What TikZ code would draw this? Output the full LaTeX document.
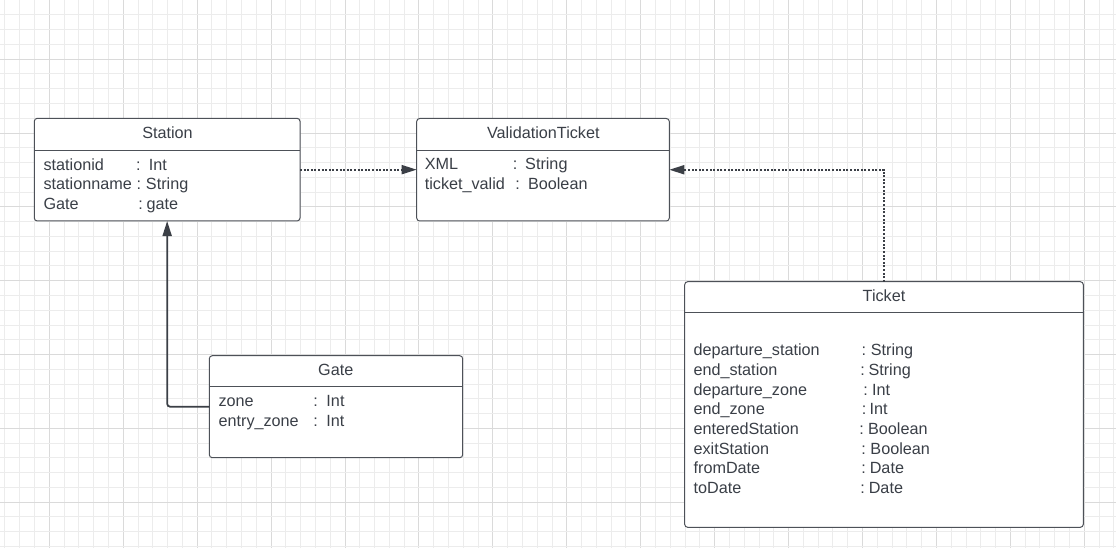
\documentclass[tikz,border=0pt]{standalone}
\usepackage{fontspec}
\setmainfont{Liberation Sans}
\usetikzlibrary{arrows.meta}

\definecolor{gridminor}{HTML}{ECECEC}
\definecolor{gridmajor}{HTML}{DADADA}
\definecolor{umlline}{HTML}{4D5158}
\definecolor{umltext}{HTML}{3A3F47}
\definecolor{umlarrow}{HTML}{3B3F46}

% one attribute row: name, colon position, gap after colon, type
\newcommand\attrline[4]{\makebox[#2pt][l]{#1}\makebox[0pt][c]{:}\hspace*{#3pt}#4}

\tikzset{
  classbox/.style={draw=umlline, line width=1pt, rounded corners=3pt, fill=white,
    rectangle, anchor=north west, inner sep=0pt, outer sep=0pt},
  divider/.style={draw=umlline, line width=1pt},
  uml/.style={font=\fontsize{16.2}{19.7}\selectfont, text=umltext, inner sep=0pt, outer sep=0pt},
  title/.style={uml, anchor=base},
  attr/.style={uml, anchor=base west},
  dep/.style={draw=umlarrow, line width=1.8pt, dash pattern=on 2pt off 1.6pt,
    -{Triangle[length=15pt,width=9pt]}},
  assoc/.style={draw=umlarrow, line width=1.8pt, rounded corners=3pt,
    -{Triangle[length=15pt,width=9pt]}},
}

\begin{document}
\begin{tikzpicture}[x=1pt, y=-1pt]
\useasboundingbox (0,0) rectangle (1116,548);
\fill[white] (0,0) rectangle (1116,548);

% background grid, a heavier line every fifth
\foreach \i in {0,...,75} {
  \pgfmathsetmacro\gx{4.94+14.786*\i}
  \pgfmathtruncatemacro\m{mod(\i+2,5)}
  \ifnum\m=0
    \draw[gridmajor, line width=1pt] (\gx,0) -- (\gx,548);
  \else
    \draw[gridminor, line width=1pt] (\gx,0) -- (\gx,548);
  \fi
}
\foreach \j in {0,...,37} {
  \pgfmathsetmacro\gy{14.9+14.767*\j}
  \pgfmathtruncatemacro\m{mod(\j+2,5)}
  \ifnum\m=0
    \draw[gridmajor, line width=1pt] (0,\gy) -- (1116,\gy);
  \else
    \draw[gridminor, line width=1pt] (0,\gy) -- (1116,\gy);
  \fi
}

% Station
\node[classbox, minimum width=265.7pt, minimum height=102.7pt] (st) at (34.3,118.3) {};
\draw[divider] (34.3,150.7) -- (300,150.7);
\node[title] (st-title) at (167.5,138.8) {Station};
\node[attr] (st-a1) at (43.6,170.1) {\attrline{stationid}{94.7}{10.5}{Int}};
\node[attr] (st-a2) at (43.6,189.7) {\attrline{stationname}{95.4}{7}{String}};
\node[attr] (st-a3) at (43.6,209.2) {\attrline{Gate}{97.1}{6}{gate}};

% ValidationTicket
\node[classbox, minimum width=252.6pt, minimum height=102.5pt] (vt) at (416.7,118.5) {};
\draw[divider] (416.7,150.7) -- (669.3,150.7);
\node[title] (vt-title) at (543.3,138.8) {ValidationTicket};
\node[attr] (vt-a1) at (424.8,169.8) {\attrline{XML}{90.2}{10.2}{String}};
\node[attr] (vt-a2) at (424.8,189.4) {\attrline{ticket\_valid}{92.9}{10.4}{Boolean}};

% Gate
\node[classbox, minimum width=253.4pt, minimum height=102pt] (gt) at (209.3,355.7) {};
\draw[divider] (209.3,386) -- (462.7,386);
\node[title] (gt-title) at (335.8,375.1) {Gate};
\node[attr] (gt-a1) at (218.6,406.9) {\attrline{zone}{97.1}{10.8}{Int}};
\node[attr] (gt-a2) at (218.6,426.2) {\attrline{entry\_zone}{97.1}{10.8}{Int}};

% Ticket
\node[classbox, minimum width=398.6pt, minimum height=245.6pt] (tk) at (684.7,281.7) {};
\draw[divider] (684.7,312.7) -- (1083.3,312.7);
\node[title] (tk-title) at (884,301.1) {Ticket};
\foreach \name/\cx/\gap/\type [count=\k from 0] in {
    departure\_station/170.4/6.9/String,
    end\_station/169.1/5.8/String,
    departure\_zone/172.1/6.4/Int,
    end\_zone/170.4/5.5/Int,
    enteredStation/168.1/6.4/Boolean,
    exitStation/170.1/6.8/Boolean,
    fromDate/170.1/6.1/Date,
    toDate/169.1/6.1/Date} {
  \node[attr] (tk-a\k) at (693.6,355.6+19.7*\k) {\attrline{\name}{\cx}{\gap}{\type}};
}

% connectors
\draw[dep] (st.east) -- (st.east -| vt.west);
\draw[dep] (tk.north) |- (vt.east);
\draw[assoc] (gt.west) -| (st.south);
\end{tikzpicture}
\end{document}
